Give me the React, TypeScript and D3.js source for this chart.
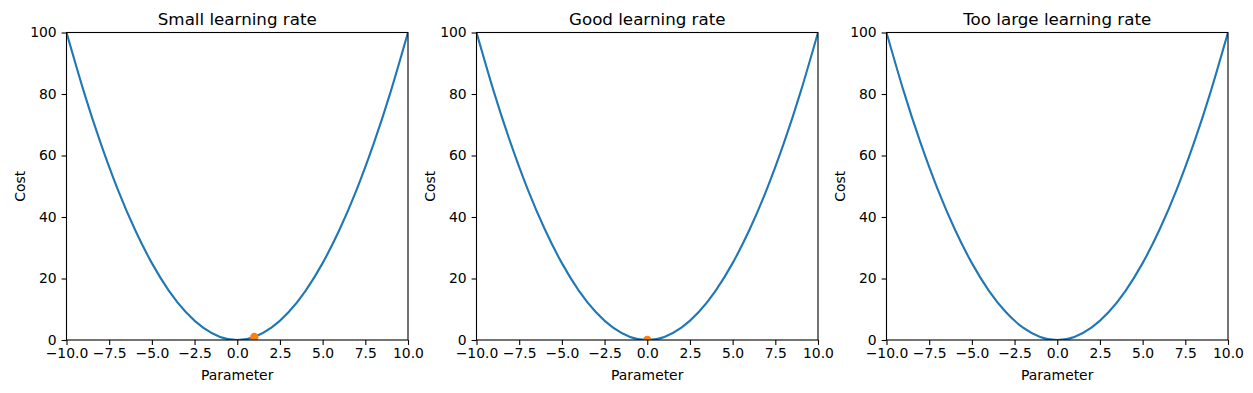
import React, { useEffect, useRef } from 'react';
import * as d3 from 'd3';

// Cost curve (same in all three panels)
const paramValues = [-10, -9, -8, -7, -6, -5, -4, -3, -2, -1, 0, 1, 2, 3, 4, 5, 6, 7, 8, 9, 10];
const costValues = [100, 81, 64, 49, 36, 25, 16, 9, 4, 1, 0, 1, 4, 9, 16, 25, 36, 49, 64, 81, 100];

const panelTitles = ['Small learning rate', 'Good learning rate', 'Too large learning rate'];
// current parameter marker per panel (null = not visible)
const markerParams = [1.0, 0.0, null];
const markerCosts = [1.0, 0.0, null];

const xTicks = [-10, -7.5, -5, -2.5, 0, 2.5, 5, 7.5, 10];
const yTicks = [0, 20, 40, 60, 80, 100];

const App = () => {
    const svgRef = useRef<SVGSVGElement>(null);

    useEffect(() => {
        const svg = d3.select(svgRef.current);
        svg.selectAll('*').remove();

        const width = 1253;
        const height = 393;
        svg.attr('width', width).attr('height', height);

        const lefts = [66.5, 476.5, 886.5];
        const plotW = 341.5;
        const top = 32.5;
        const bottom = 340;
        const font = 'DejaVu Sans, sans-serif';

        const curve = paramValues.map((p, i) => ({ p, c: costValues[i] }));

        panelTitles.forEach((title, k) => {
            const x = d3.scaleLinear().domain([-10, 10]).range([lefts[k], lefts[k] + plotW]);
            const y = d3.scaleLinear().domain([0, 100]).range([bottom, top]);

            const g = svg.append('g');

            // clip to axes area
            const clipId = `clip-${k}`;
            svg.append('defs').append('clipPath').attr('id', clipId)
                .append('rect')
                .attr('x', lefts[k]).attr('y', top)
                .attr('width', plotW).attr('height', bottom - top);

            const line = d3.line<{ p: number; c: number }>()
                .x((d) => x(d.p))
                .y((d) => y(d.c))
                .curve(d3.curveNatural);

            g.append('path')
                .datum(curve)
                .attr('clip-path', `url(#${clipId})`)
                .attr('fill', 'none')
                .attr('stroke', '#1f77b4')
                .attr('stroke-width', 2.1)
                .attr('d', line);

            const mp = markerParams[k];
            const mc = markerCosts[k];
            if (mp !== null && mc !== null) {
                g.append('circle')
                    .attr('clip-path', `url(#${clipId})`)
                    .attr('cx', x(mp))
                    .attr('cy', y(mc))
                    .attr('r', 4.2)
                    .attr('fill', '#ff7f0e');
            }

            // frame
            g.append('rect')
                .attr('x', lefts[k]).attr('y', top)
                .attr('width', plotW).attr('height', bottom - top)
                .attr('fill', 'none')
                .attr('stroke', 'black')
                .attr('stroke-width', 1.1);

            // x axis
            const xAxis = g.append('g')
                .attr('transform', `translate(0,${bottom})`)
                .call(d3.axisBottom(x).tickValues(xTicks).tickSizeInner(4.9).tickSizeOuter(0).tickPadding(3.2)
                    .tickFormat((d) => d3.format('.1f')(d as number).replace('-', '\u2212')));
            xAxis.select('.domain').remove();
            xAxis.selectAll('line').attr('stroke-width', 1.1);
            xAxis.selectAll('text').attr('font-family', font).attr('font-size', 13.9).attr('fill', 'black');

            // y axis
            const yAxis = g.append('g')
                .attr('transform', `translate(${lefts[k]},0)`)
                .call(d3.axisLeft(y).tickValues(yTicks).tickSizeInner(4.9).tickSizeOuter(0).tickPadding(4.9)
                    .tickFormat(d3.format('d')));
            yAxis.select('.domain').remove();
            yAxis.selectAll('line').attr('stroke-width', 1.1);
            yAxis.selectAll('text').attr('font-family', font).attr('font-size', 13.9).attr('fill', 'black');

            // labels
            g.append('text')
                .attr('x', lefts[k] + plotW / 2)
                .attr('y', 380)
                .attr('text-anchor', 'middle')
                .attr('font-family', font)
                .attr('font-size', 13.9)
                .text('Parameter');

            g.append('text')
                .attr('transform', `translate(${lefts[k] - 41.5},${(top + bottom) / 2}) rotate(-90)`)
                .attr('text-anchor', 'middle')
                .attr('font-family', font)
                .attr('font-size', 13.9)
                .text('Cost');

            g.append('text')
                .attr('x', lefts[k] + plotW / 2)
                .attr('y', 24.5)
                .attr('text-anchor', 'middle')
                .attr('font-family', font)
                .attr('font-size', 16.7)
                .text(title);
        });
    }, []);

    return <svg ref={svgRef} style={{ position: 'absolute', left: 0, top: 0 }}></svg>;
};

export default App;
